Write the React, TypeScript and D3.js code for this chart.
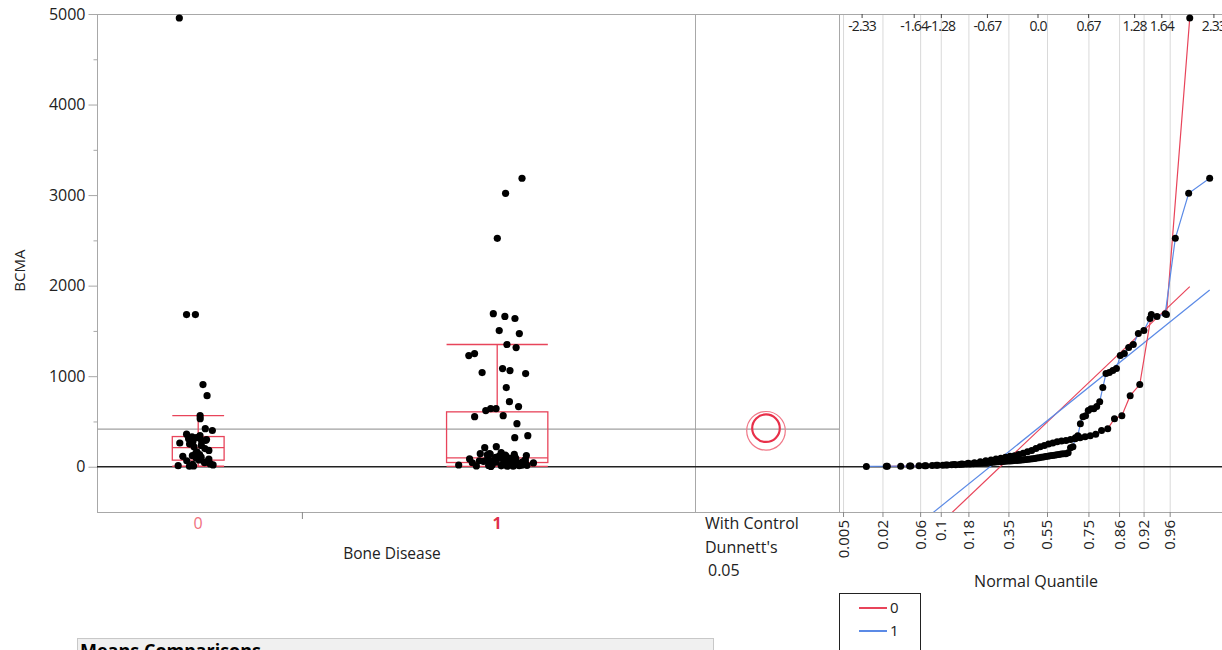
import React, { useEffect, useRef } from 'react';
import * as d3 from 'd3';

// BCMA by Bone Disease group
const groups = ['0', '1'];
const bcma0 = [5, 8, 12, 15, 20, 25, 30, 38, 45, 55, 66, 75, 85, 95, 105, 115, 122, 135, 150, 165,
  180, 200, 220, 235, 250, 262, 275, 285, 290, 300, 310, 321, 330, 343, 360, 400, 420, 531, 564, 785,
  907, 1680, 1680, 4956];
const bcma1 = [3, 5, 6, 8, 10, 12, 14, 15, 17, 19, 21, 23, 25, 27, 29, 31, 33, 36, 39, 42,
  44, 46, 48, 50, 52, 54, 56, 58, 60, 62, 64, 66, 68, 70, 72, 75, 78, 80, 83, 86,
  89, 92, 96, 100, 104, 108, 112, 116, 120, 124, 128, 132, 136, 140, 144, 144, 155, 210, 221, 321,
  343, 476, 553, 564, 620, 641, 641, 664, 719, 874, 1029, 1040, 1062, 1084, 1228, 1250, 1316, 1350, 1471, 1504,
  1637, 1660, 1690, 2522, 3020, 3186];

const yMajor = [0, 1000, 2000, 3000, 4000, 5000];
const yMinor = [500, 1500, 2500, 3500, 4500];
const topQuantiles = [-2.33, -1.64, -1.28, -0.67, 0, 0.67, 1.28, 1.64, 2.33];
const topLabels = ['-2.33', '-1.64', '-1.28', '-0.67', '0.0', '0.67', '1.28', '1.64', '2.33'];
const probTicks = [0.005, 0.02, 0.06, 0.1, 0.18, 0.35, 0.55, 0.75, 0.86, 0.92, 0.96];
const probLabels = ['0.005', '0.02', '0.06', '0.1', '0.18', '0.35', '0.55', '0.75', '0.86', '0.92', '0.96'];
const dunnettQ = 1.98;

const RED = '#e8445a';
const BLUE = '#5b8ae6';
const FONT = '"Segoe UI", "Open Sans", sans-serif';

// inverse normal cdf (Acklam)
function qnorm(p: number) {
  const a = [-39.69683028665376, 220.9460984245205, -275.9285104469687, 138.357751867269, -30.66479806614716, 2.506628277459239];
  const b = [-54.47609879822406, 161.5858368580409, -155.6989798598866, 66.80131188771972, -13.28068155288572];
  const c = [-0.007784894002430293, -0.3223964580411365, -2.400758277161838, -2.549732539343734, 4.374664141464968, 2.938163982698783];
  const d = [0.007784695709041462, 0.3224671290700398, 2.445134137142996, 3.754408661907416];
  const pl = 0.02425;
  if (p < pl) {
    const q = Math.sqrt(-2 * Math.log(p));
    return (((((c[0] * q + c[1]) * q + c[2]) * q + c[3]) * q + c[4]) * q + c[5]) / ((((d[0] * q + d[1]) * q + d[2]) * q + d[3]) * q + 1);
  }
  if (p > 1 - pl) {
    const q = Math.sqrt(-2 * Math.log(1 - p));
    return -(((((c[0] * q + c[1]) * q + c[2]) * q + c[3]) * q + c[4]) * q + c[5]) / ((((d[0] * q + d[1]) * q + d[2]) * q + d[3]) * q + 1);
  }
  const q = p - 0.5, r = q * q;
  return (((((a[0] * r + a[1]) * r + a[2]) * r + a[3]) * r + a[4]) * r + a[5]) * q / (((((b[0] * r + b[1]) * r + b[2]) * r + b[3]) * r + b[4]) * r + 1);
}

const App = () => {
  const svgRef = useRef<SVGSVGElement | null>(null);

  useEffect(() => {
    const svg = d3.select(svgRef.current);
    svg.selectAll('*').remove();

    const data = [bcma0, bcma1].map(v => v.slice().sort((a, b) => a - b));
    const colors = [RED, BLUE];
    const nTotal = data[0].length + data[1].length;

    const left = 97, mid = 695, right = 839, top = 14, bottom = 512;
    const y = d3.scaleLinear().domain([-500, 5000]).range([bottom, top]);
    const xc = d3.scaleLinear().domain([0, nTotal]).range([left, mid]);
    const xq = d3.scaleLinear().domain([-2.636, 2.437]).range([right, 1222]);

    const g = svg.append('g');

    // right panel grid
    g.selectAll('.qgrid').data(probTicks).join('line')
      .attr('x1', d => xq(qnorm(d))).attr('x2', d => xq(qnorm(d)))
      .attr('y1', top).attr('y2', bottom)
      .attr('stroke', '#d9d9d9').attr('stroke-width', 1);

    // frames
    const frame = '#a8a8a8';
    g.append('line').attr('x1', left).attr('x2', 1222).attr('y1', top + 0.5).attr('y2', top + 0.5).attr('stroke', frame);
    g.append('line').attr('x1', left).attr('x2', 1222).attr('y1', bottom + 0.5).attr('y2', bottom + 0.5).attr('stroke', frame);
    [left, mid, right].forEach(x => {
      g.append('line').attr('x1', x + 0.5).attr('x2', x + 0.5).attr('y1', top).attr('y2', bottom).attr('stroke', frame);
    });

    // y axis
    const ya = g.append('g').attr('transform', `translate(${left + 0.5},0)`)
      .call(d3.axisLeft(y).tickValues(yMajor).tickSize(9).tickPadding(3).tickFormat(d3.format('d')));
    ya.select('.domain').remove();
    ya.selectAll('line').attr('stroke', frame);
    ya.selectAll('text').attr('font-family', FONT).attr('font-size', 16).attr('fill', '#222');
    const ym = g.append('g').attr('transform', `translate(${left + 0.5},0)`)
      .call(d3.axisLeft(y).tickValues(yMinor).tickSize(4).tickFormat(() => ''));
    ym.select('.domain').remove();
    ym.selectAll('line').attr('stroke', frame);

    g.append('text').attr('transform', `translate(25,${y(2000) - 15}) rotate(-90)`)
      .attr('text-anchor', 'middle').attr('font-family', FONT).attr('font-size', 15).attr('fill', '#222')
      .text('BCMA');

    // mean and zero lines
    const grand = d3.mean(data.flat()) as number;
    g.append('line').attr('x1', left).attr('x2', right).attr('y1', y(grand)).attr('y2', y(grand))
      .attr('stroke', '#a0a0a0').attr('stroke-width', 1.3);
    g.append('line').attr('x1', left).attr('x2', 1222).attr('y1', y(0)).attr('y2', y(0))
      .attr('stroke', '#222').attr('stroke-width', 1.4);

    // category axis
    const starts = [0, data[0].length];
    const centers = data.map((v, i) => xc(starts[i] + v.length / 2));
    g.append('line').attr('x1', xc(data[0].length) + 3).attr('x2', xc(data[0].length) + 3)
      .attr('y1', bottom).attr('y2', bottom + 7).attr('stroke', '#888');
    g.selectAll('.cat').data(groups).join('text')
      .attr('x', (d, i) => centers[i]).attr('y', 529)
      .attr('text-anchor', 'middle').attr('font-family', FONT).attr('font-size', 16)
      .attr('font-weight', (d, i) => i === 1 ? 'bold' : 'normal')
      .attr('fill', (d, i) => i === 1 ? '#e0304a' : '#f07080')
      .text(d => d);
    g.append('text').attr('x', 392).attr('y', 559).attr('text-anchor', 'middle')
      .attr('font-family', FONT).attr('font-size', 15.5).attr('fill', '#222').text('Bone Disease');

    // box plots and jittered points
    const rng = d3.randomLcg(0.37);
    data.forEach((v, i) => {
      const band = xc(v.length) - xc(0);
      const bw = band * 0.128;
      const cx = centers[i];
      const q1 = d3.quantile(v, 0.25) as number;
      const med = d3.quantile(v, 0.5) as number;
      const q3 = d3.quantile(v, 0.75) as number;
      const iqr = q3 - q1;
      const hiW = d3.max(v.filter(d => d <= q3 + 1.5 * iqr)) as number;
      const loW = d3.min(v.filter(d => d >= q1 - 1.5 * iqr)) as number;
      const bx = g.append('g').attr('stroke', RED).attr('stroke-width', 1.3).attr('fill', 'none');
      bx.append('rect').attr('x', cx - bw).attr('width', bw * 2).attr('y', y(q3)).attr('height', y(q1) - y(q3));
      bx.append('line').attr('x1', cx - bw).attr('x2', cx + bw).attr('y1', y(med)).attr('y2', y(med));
      [[q3, hiW], [q1, loW]].forEach(([a, b]) => {
        bx.append('line').attr('x1', cx).attr('x2', cx).attr('y1', y(a)).attr('y2', y(b));
        bx.append('line').attr('x1', cx - bw).attr('x2', cx + bw).attr('y1', y(b)).attr('y2', y(b));
      });
      const spread = band * 0.1;
      const pts = v.map(d => ({ v: d, dx: (rng() + rng() - 1) * spread }));
      g.selectAll(`.pt${i}`).data(pts).join('circle')
        .attr('cx', d => cx + d.dx).attr('cy', d => y(d.v)).attr('r', 3.6).attr('fill', '#000');
    });

    // comparison circles
    const ss = data.reduce((s, v) => { const m = d3.mean(v) as number; return s + d3.sum(v, d => (d - m) ** 2); }, 0);
    const sp = Math.sqrt(ss / (nTotal - 2));
    const ccx = (mid + right) / 2 - 1;
    const pxPer = y(0) - y(1);
    [1, 0].forEach(i => {
      const v = data[i];
      const r = dunnettQ * sp / Math.sqrt(v.length) * pxPer;
      g.append('circle').attr('cx', ccx).attr('cy', y(d3.mean(v) as number)).attr('r', r)
        .attr('fill', 'none').attr('stroke', i === 1 ? '#e8304a' : '#f07888')
        .attr('stroke-width', i === 1 ? 2.2 : 1.2);
    });
    const dt = g.append('g').attr('font-family', FONT).attr('font-size', 16).attr('fill', '#222');
    dt.append('text').attr('x', 705).attr('y', 529).text('With Control');
    dt.append('text').attr('x', 705).attr('y', 553).text("Dunnett's");
    dt.append('text').attr('x', 708).attr('y', 576).text('0.05');

    // normal quantile plot
    svg.append('defs').append('clipPath').attr('id', 'qclip')
      .append('rect').attr('x', right).attr('y', top).attr('width', 1222 - right).attr('height', bottom - top);
    const qg = g.append('g').attr('clip-path', 'url(#qclip)');
    const qpts = data.map(v => v.map((d, k) => ({ z: qnorm((k + 1) / (v.length + 1)), v: d })));
    data.forEach((v, i) => {
      const m = d3.mean(v) as number, s = d3.deviation(v) as number;
      const zs = d3.extent(qpts[i], d => d.z) as [number, number];
      qg.append('line').attr('x1', xq(zs[0])).attr('y1', y(m + s * zs[0]))
        .attr('x2', xq(zs[1])).attr('y2', y(m + s * zs[1]))
        .attr('stroke', colors[i]).attr('stroke-width', 1.2);
    });
    qpts.forEach((p, i) => {
      qg.append('path').datum(p)
        .attr('d', d3.line<{ z: number; v: number }>().x(d => xq(d.z)).y(d => y(d.v)))
        .attr('fill', 'none').attr('stroke', colors[i]).attr('stroke-width', 1.2);
    });
    qpts.forEach((p, i) => {
      qg.selectAll(`.qp${i}`).data(p).join('circle')
        .attr('cx', d => xq(d.z)).attr('cy', d => y(d.v)).attr('r', 3.5).attr('fill', '#000');
    });

    // top quantile axis
    g.selectAll('.tq').data(topQuantiles).join('line')
      .attr('x1', d => xq(d)).attr('x2', d => xq(d)).attr('y1', top).attr('y2', top + 4)
      .attr('stroke', '#444');
    g.selectAll('.tql').data(topQuantiles).join('text')
      .attr('x', d => xq(d)).attr('y', 31).attr('text-anchor', 'middle')
      .attr('font-family', FONT).attr('font-size', 14).attr('letter-spacing', -0.9).attr('fill', '#222')
      .text((d, i) => topLabels[i]);

    // bottom probability axis
    g.selectAll('.bq').data(probTicks).join('line')
      .attr('x1', d => xq(qnorm(d))).attr('x2', d => xq(qnorm(d))).attr('y1', bottom).attr('y2', bottom + 5)
      .attr('stroke', '#888');
    g.selectAll('.bql').data(probTicks).join('text')
      .attr('transform', d => `translate(${xq(qnorm(d)) + 5},520) rotate(-90)`)
      .attr('text-anchor', 'end')
      .attr('font-family', FONT).attr('font-size', 15).attr('fill', '#222')
      .text((d, i) => probLabels[i]);
    g.append('text').attr('x', 1036).attr('y', 587).attr('text-anchor', 'middle')
      .attr('font-family', FONT).attr('font-size', 16).attr('fill', '#222').text('Normal Quantile');

    // legend
    const lg = g.append('g');
    lg.append('rect').attr('x', 839.5).attr('y', 593.5).attr('width', 81).attr('height', 80)
      .attr('fill', '#fff').attr('stroke', '#222');
    groups.forEach((k, i) => {
      lg.append('line').attr('x1', 859).attr('x2', 887).attr('y1', 608 + i * 23).attr('y2', 608 + i * 23)
        .attr('stroke', colors[i]).attr('stroke-width', 2);
      lg.append('text').attr('x', 890).attr('y', 613 + i * 23).attr('font-family', FONT).attr('font-size', 15)
        .attr('fill', '#222').text(k);
    });

    // next report section header
    g.append('rect').attr('x', 77.5).attr('y', 638.5).attr('width', 636).attr('height', 30)
      .attr('fill', '#f0f0f0').attr('stroke', '#c8c8c8');
    g.append('text').attr('x', 80).attr('y', 657).attr('font-family', FONT).attr('font-size', 18)
      .attr('font-weight', 'bold').attr('fill', '#000').text('Means Comparisons');
  }, []);

  return (
    <div style={{ position: 'absolute', left: 0, top: 0 }}>
      <svg ref={svgRef} width={1222} height={650} style={{ display: 'block', background: '#fff' }} />
    </div>
  );
};

export default App;
